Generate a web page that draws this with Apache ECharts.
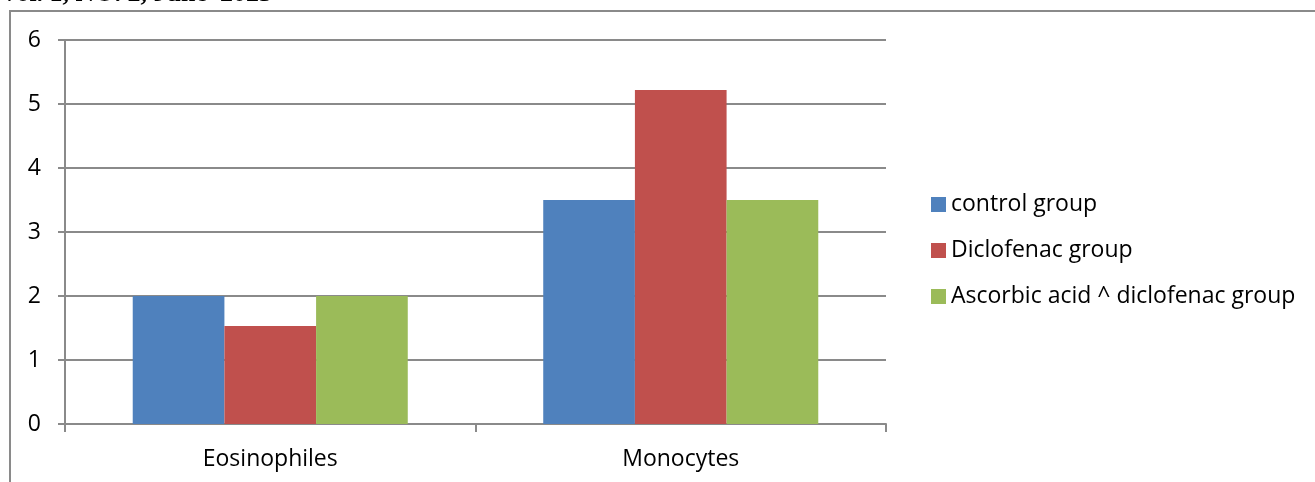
<!DOCTYPE html>
<html>
<head>
<meta charset="utf-8">
<script src="https://cdn.jsdelivr.net/npm/echarts@6/dist/echarts.min.js"></script>
<style>
  html, body { margin: 0; padding: 0; background: #fff; }
  #chart { width: 1315px; height: 482px; }
</style>
</head>
<body>
<div id="chart"></div>
<script>
const categories = ['Eosinophiles', 'Monocytes']
const seriesNames = ['control group', 'Diclofenac group', 'Ascorbic acid ^ diclofenac group']
const controlGroup = [2.0, 3.5]
const diclofenacGroup = [1.53, 5.22]
const ascorbicGroup = [2.0, 3.5]
const yTicks = [0, 1, 2, 3, 4, 5, 6]

const colors = ['#4F81BD', '#C0504D', '#9BBB59']
const font = '"Open Sans", Lato, sans-serif'

const chart = echarts.init(document.getElementById('chart'), null, { renderer: 'canvas' })

chart.setOption({
  animation: false,
  color: colors,
  graphic: [
    {
      type: 'text',
      left: 0,
      top: -19,
      style: {
        text: 'Vol. 1, NO. 2, June  2025',
        font: 'bold 26px "Liberation Serif", serif',
        fill: '#000'
      }
    },
    {
      type: 'rect',
      shape: { x: 10, y: 11, width: 1400, height: 600 },
      style: { fill: 'none', stroke: '#8a8a8a', lineWidth: 2 }
    }
  ],
  grid: { left: 65, right: 429, top: 40, bottom: 58 },
  legend: {
    orient: 'vertical',
    left: 931,
    top: 193,
    padding: 0,
    itemWidth: 15,
    itemHeight: 15,
    itemGap: 23,
    icon: 'rect',
    data: seriesNames,
    textStyle: { fontFamily: font, fontSize: 23, color: '#000' }
  },
  xAxis: {
    type: 'category',
    data: categories,
    axisLine: { lineStyle: { color: '#8a8a8a', width: 2 } },
    axisTick: { show: true, length: 8, lineStyle: { color: '#8a8a8a', width: 2 } },
    axisLabel: { fontFamily: font, fontSize: 23, color: '#000', margin: 24 }
  },
  yAxis: {
    type: 'value',
    min: yTicks[0],
    max: yTicks[yTicks.length - 1],
    interval: 1,
    axisLine: { show: true, lineStyle: { color: '#8a8a8a', width: 2 } },
    axisTick: { show: true, length: 7, lineStyle: { color: '#8a8a8a', width: 2 } },
    splitLine: { lineStyle: { color: '#8a8a8a', width: 2 } },
    axisLabel: { fontFamily: font, fontSize: 23, color: '#000', margin: 24 }
  },
  series: [
    { name: seriesNames[0], type: 'bar', data: controlGroup, barGap: '0%', barCategoryGap: '33%' },
    { name: seriesNames[1], type: 'bar', data: diclofenacGroup, barGap: '0%', barCategoryGap: '33%' },
    { name: seriesNames[2], type: 'bar', data: ascorbicGroup, barGap: '0%', barCategoryGap: '33%' }
  ]
})
</script>
</body>
</html>
